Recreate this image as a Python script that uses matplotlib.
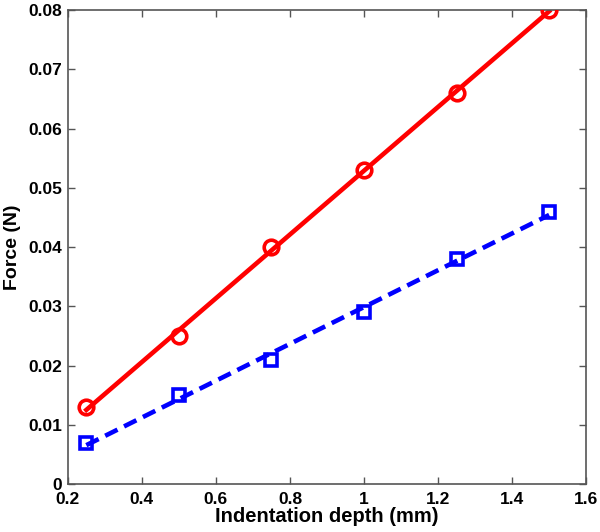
import matplotlib
matplotlib.use("Agg")
import matplotlib.pyplot as plt
import numpy as np

depth = [0.25, 0.5, 0.75, 1.0, 1.25, 1.5]
force_red = [0.013, 0.025, 0.040, 0.053, 0.066, 0.080]
force_blue = [0.007, 0.015, 0.021, 0.029, 0.038, 0.046]

x_ticks = [0.2, 0.4, 0.6, 0.8, 1.0, 1.2, 1.4, 1.6]
x_labels = ["0.2", "0.4", "0.6", "0.8", "1", "1.2", "1.4", "1.6"]
y_ticks = [0, 0.01, 0.02, 0.03, 0.04, 0.05, 0.06, 0.07, 0.08]
y_labels = ["0", "0.01", "0.02", "0.03", "0.04", "0.05", "0.06", "0.07", "0.08"]

plt.rcParams["font.family"] = ["Liberation Sans", "DejaVu Sans"]
plt.rcParams["font.weight"] = "bold"

fig = plt.figure(figsize=(6.0, 5.32), dpi=100)
ax = fig.add_axes([0.113, 0.090, 0.864, 0.891])

x = np.array(depth)
for y, color, ls, marker in [(force_red, "#ff0000", "-", "o"),
                             (force_blue, "#0000ff", (0, (3.0, 1.6)), "s")]:
    k, b = np.polyfit(x, np.array(y), 1)
    ax.plot(x, k * x + b, color=color, linestyle=ls, linewidth=3.3, zorder=2)
    ax.plot(x, y, linestyle="none", marker=marker, markersize=10.5 if marker == "o" else 9,
            markerfacecolor="none", markeredgecolor=color, markeredgewidth=2.6, zorder=3)

ax.set_xlim(0.2, 1.6)
ax.set_ylim(0, 0.08)
ax.set_xticks(x_ticks)
ax.set_xticklabels(x_labels)
ax.set_yticks(y_ticks)
ax.set_yticklabels(y_labels)
ax.tick_params(direction="in", length=5, width=1, color="#555555", labelsize=12.5,
               top=True, right=True, pad=4)
ax.tick_params(axis="x", pad=5.5)
for lab in ax.get_xticklabels() + ax.get_yticklabels():
    lab.set_fontweight("bold")
for sp in ax.spines.values():
    sp.set_color("#555555")
    sp.set_linewidth(1.2)

ax.set_xlabel("Indentation depth (mm)", fontsize=14.5, fontweight="bold", labelpad=0)
ax.set_ylabel("Force (N)", fontsize=14, fontweight="bold")
ax.yaxis.set_label_coords(-0.090, 0.5)

fig.savefig("out.png", dpi=100)
